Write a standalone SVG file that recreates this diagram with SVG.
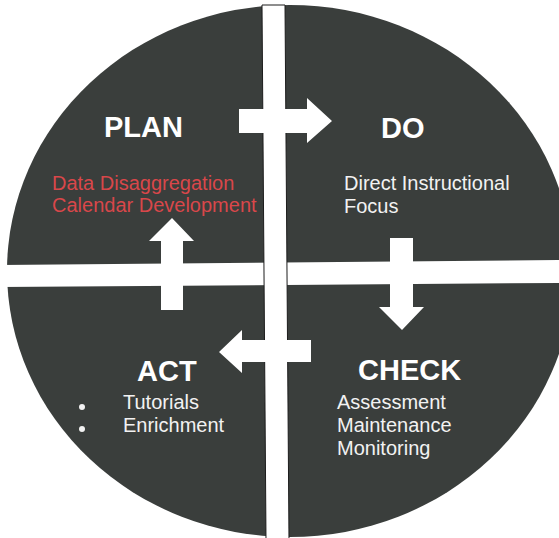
<svg xmlns="http://www.w3.org/2000/svg" width="559" height="538" viewBox="0 0 559 538">
<style>
.title{font-family:"Liberation Sans",Arial,sans-serif;font-weight:bold;font-size:29px;fill:#ffffff}
.item{font-family:"Liberation Sans",Arial,sans-serif;font-size:20px;fill:#f2f2f2}
.red{font-family:"Liberation Sans",Arial,sans-serif;font-size:20px;fill:#d9474a}
.bar{fill:#ffffff}
.vbar{fill:#ffffff;stroke:#1c1c1c;stroke-width:1}
.arrow{fill:#ffffff}
</style>
<rect width="559" height="538" fill="#ffffff"/>
<ellipse id="disc" cx="290" cy="271" rx="283" ry="266" fill="#3a3e3c"/>
<g id="cross">
<polygon class="bar" points="0,265 559,260 559,283 0,287"/>
<polygon class="vbar" points="262,5 285,5 289,540 266,540"/>
</g>
<g id="connectors">
<polygon class="arrow" points="239,109 307,109 307,98 332,121 307,143 307,133 239,133"/>
<polygon class="arrow" points="390,238 413,238 413,307 424,307 402,330 379,307 390,307"/>
<polygon class="arrow" points="311,340 311,362 242,362 242,373 219,352 242,330 242,340"/>
<polygon class="arrow" points="161,310 183,310 183,241 194,241 172,218 149,241 161,241"/>
</g>
<g id="plan">
<text class="title" x="104" y="137">PLAN</text>
<text class="red" x="52" y="190">Data Disaggregation</text>
<text class="red" x="52" y="212">Calendar Development</text>
</g>
<g id="do">
<text class="title" x="381" y="138">DO</text>
<text class="item" x="344" y="190">Direct Instructional</text>
<text class="item" x="344" y="213">Focus</text>
</g>
<g id="act">
<text class="title" x="137" y="381">ACT</text>
<circle cx="82" cy="407" r="3" fill="#f2f2f2"/>
<circle cx="82" cy="429" r="3" fill="#f2f2f2"/>
<text class="item" x="123" y="409">Tutorials</text>
<text class="item" x="123" y="432">Enrichment</text>
</g>
<g id="check">
<text class="title" x="358" y="380">CHECK</text>
<text class="item" x="337" y="409">Assessment</text>
<text class="item" x="337" y="432">Maintenance</text>
<text class="item" x="337" y="455">Monitoring</text>
</g>
</svg>
